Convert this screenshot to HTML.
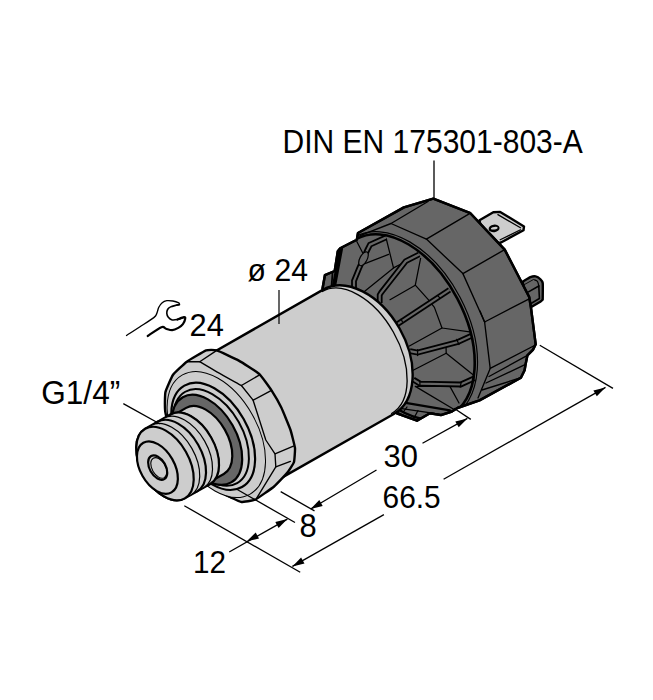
<!DOCTYPE html>
<html><head><meta charset="utf-8"><style>
html,body{margin:0;padding:0;background:#fff;}
svg{display:block;}
text{font-family:"Liberation Sans",sans-serif;fill:#000;}
</style></head><body>
<svg width="653" height="700" viewBox="0 0 653 700">
<path d="M479.5,220.3 L493.3,212.3 L500.2,211.9 L524,226.4 L523.5,230.3 L501,242.5 L485,248Z" fill="#cdcdcd" stroke="#000" stroke-width="2.4" stroke-linejoin="round" stroke-linecap="round"/>
<path d="M497.9,214.6 L520.5,227.8" fill="none" stroke="#000" stroke-width="1.25" stroke-linejoin="round" stroke-linecap="round"/>
<path d="M500.2,239.8 L520.5,229.8" fill="none" stroke="#000" stroke-width="1.25" stroke-linejoin="round" stroke-linecap="round"/>
<ellipse cx="494.1" cy="228.4" rx="5.5" ry="3.8" fill="#000" transform="rotate(-8 494.1 228.4)"/>
<ellipse cx="494.3" cy="228.2" rx="3.4" ry="1.3" fill="#cdcdcd" transform="rotate(-8 494.3 228.2)"/>
<path d="M522.7,281.6 C523.5,281.2 529.1,277.6 530.4,277.1 C531.7,276.6 534.6,276.2 535.6,276.4 C536.6,276.6 539.4,278.3 540.1,279 C540.8,279.7 542.4,280.9 542.7,283 C543,285.1 542.7,297.9 542.7,299.6 L540.7,301.5 L531.7,306.7 L526,300 Z" fill="#666666" stroke="#000" stroke-width="2.4" stroke-linejoin="round" stroke-linecap="round"/>
<path d="M524.5,284.5 L533.5,279.5" fill="none" stroke="#000" stroke-width="0.9" stroke-linejoin="round" stroke-linecap="round"/>
<path d="M528.5,291.9 L538.8,286" fill="none" stroke="#000" stroke-width="1.6" stroke-linejoin="round" stroke-linecap="round"/>
<path d="M538.8,286 L539.4,298.5 L531,303.5" fill="none" stroke="#000" stroke-width="1.6" stroke-linejoin="round" stroke-linecap="round"/>
<path d="M534.5,279.8 C535,280.1 536.8,280.5 537.5,281.5 C538.2,282.5 538.6,285.2 538.8,286" fill="none" stroke="#000" stroke-width="1.25" stroke-linejoin="round" stroke-linecap="round"/>
<path d="M433.3,198.7 L470.4,213.2 L504.7,249.6 L529.2,297 L531,308 L535.7,344.3 L532.9,349.9 L527.4,355.4 L525.5,364.7 L524.6,370.3 L520.9,377.7 L479.5,400.4 L457.4,408 L451.9,411.5 L440.9,415.1 L429.9,413.3 L417,420.7 L396.8,413.3 L380,380 L322.5,288.7 L324.9,275.2 L334.7,271 L337.8,251.3 L340.2,248.3 L356.8,239.7 L358,233 L403.9,207.4Z" fill="#666666" stroke="#000" stroke-width="2.4" stroke-linejoin="round" stroke-linecap="round"/>
<clipPath id="cc"><path d="M433.3,198.7 L470.4,213.2 L504.7,249.6 L529.2,297 L531,308 L535.7,344.3 L532.9,349.9 L527.4,355.4 L525.5,364.7 L524.6,370.3 L520.9,377.7 L479.5,400.4 L457.4,408 L451.9,411.5 L440.9,415.1 L429.9,413.3 L417,420.7 L396.8,413.3 L380,380 L322.5,288.7 L324.9,275.2 L334.7,271 L337.8,251.3 L340.2,248.3 L356.8,239.7 L358,233 L403.9,207.4Z"/></clipPath><g clip-path="url(#cc)">
<path d="M428,201.5 L391,223.5 L360,235.6" fill="none" stroke="#000" stroke-width="1.35" stroke-linejoin="round" stroke-linecap="round"/>
<path d="M391,223.5 L426.4,239.1 L462.9,273.6 L484.6,322 L490.2,368.4 L478,398" fill="none" stroke="#000" stroke-width="1.35" stroke-linejoin="round" stroke-linecap="round"/>
<path d="M470.4,213.2 L426.4,239.1" fill="none" stroke="#000" stroke-width="1.35" stroke-linejoin="round" stroke-linecap="round"/>
<path d="M504.7,249.6 L462.9,273.6" fill="none" stroke="#000" stroke-width="1.35" stroke-linejoin="round" stroke-linecap="round"/>
<path d="M529.2,298.8 L484.6,322" fill="none" stroke="#000" stroke-width="1.35" stroke-linejoin="round" stroke-linecap="round"/>
<path d="M534.5,345.5 L490.2,368.4" fill="none" stroke="#000" stroke-width="1.35" stroke-linejoin="round" stroke-linecap="round"/>
<path d="M480,310.9 L484.6,322" fill="none" stroke="#000" stroke-width="1.35" stroke-linejoin="round" stroke-linecap="round"/>
<path d="M489,376.5 L527.4,355.4" fill="none" stroke="#000" stroke-width="1.35" stroke-linejoin="round" stroke-linecap="round"/>
<path d="M486,383 L525,364.7" fill="none" stroke="#000" stroke-width="1.35" stroke-linejoin="round" stroke-linecap="round"/>
<path d="M482,390 L521,377.7" fill="none" stroke="#000" stroke-width="1.35" stroke-linejoin="round" stroke-linecap="round"/>
<path d="M356.8,241.5 L362.9,253.2" fill="none" stroke="#000" stroke-width="1.25" stroke-linejoin="round" stroke-linecap="round"/>
<path d="M386.2,238.5 L393.5,267.9 L364.1,291.8" fill="none" stroke="#000" stroke-width="1.25" stroke-linejoin="round" stroke-linecap="round"/>
<path d="M360.4,265.4 L388.6,254.4" fill="none" stroke="#000" stroke-width="1.25" stroke-linejoin="round" stroke-linecap="round"/>
<path d="M393.5,267.9 L405,262" fill="none" stroke="#000" stroke-width="1.25" stroke-linejoin="round" stroke-linecap="round"/>
<path d="M420.6,258.4 L415.3,285.2 L390,299.7" fill="none" stroke="#000" stroke-width="1.25" stroke-linejoin="round" stroke-linecap="round"/>
<path d="M415.3,285.2 L428.3,299.7 L434.4,307.4 L442,328 L469.6,331.9" fill="none" stroke="#000" stroke-width="1.25" stroke-linejoin="round" stroke-linecap="round"/>
<path d="M442,328 L409.4,346" fill="none" stroke="#000" stroke-width="1.25" stroke-linejoin="round" stroke-linecap="round"/>
<path d="M446.2,353.3 L412.2,370.8" fill="none" stroke="#000" stroke-width="1.25" stroke-linejoin="round" stroke-linecap="round"/>
<path d="M446.2,353.3 L446,345" fill="none" stroke="#000" stroke-width="1.25" stroke-linejoin="round" stroke-linecap="round"/>
<path d="M446.2,353.3 L474,375.6" fill="none" stroke="#000" stroke-width="1.25" stroke-linejoin="round" stroke-linecap="round"/>
<path d="M449.9,386.4 L416.8,386.4" fill="none" stroke="#000" stroke-width="1.25" stroke-linejoin="round" stroke-linecap="round"/>
<path d="M449.9,386.4 L449,384" fill="none" stroke="#000" stroke-width="1.25" stroke-linejoin="round" stroke-linecap="round"/>
<path d="M449.9,386.4 L459,403" fill="none" stroke="#000" stroke-width="1.25" stroke-linejoin="round" stroke-linecap="round"/>
<path d="M386,237.4 L370,244.7 L367.5,249.6 L359,268.6 L354,280.9 L354,288" fill="none" stroke="#000" stroke-width="5.8" stroke-linejoin="miter" stroke-linecap="butt"/>
<path d="M386,237.4 L370,244.7 L367.5,249.6 L359,268.6 L354,280.9 L354,288" fill="none" stroke="#666" stroke-width="2.2" stroke-linejoin="miter" stroke-linecap="butt"/>
<path d="M419,254.5 L405.7,261.2 L381.2,292.5 L379.7,295 L379.7,303" fill="none" stroke="#000" stroke-width="5.8" stroke-linejoin="miter" stroke-linecap="butt"/>
<path d="M419,254.5 L405.7,261.2 L381.2,292.5 L379.7,295 L379.7,303" fill="none" stroke="#666" stroke-width="2.2" stroke-linejoin="miter" stroke-linecap="butt"/>
<path d="M449.5,289.9 L397.5,324.1" fill="none" stroke="#000" stroke-width="5.8" stroke-linejoin="miter" stroke-linecap="butt"/>
<path d="M449.5,289.9 L397.5,324.1" fill="none" stroke="#666" stroke-width="2.2" stroke-linejoin="miter" stroke-linecap="butt"/>
<path d="M471.1,335.9 L457.9,342 L417.6,352.6 L409.9,351.2" fill="none" stroke="#000" stroke-width="5.8" stroke-linejoin="miter" stroke-linecap="butt"/>
<path d="M471.1,335.9 L457.9,342 L417.6,352.6 L409.9,351.2" fill="none" stroke="#666" stroke-width="2.2" stroke-linejoin="miter" stroke-linecap="butt"/>
<path d="M474.6,378.2 L460.8,384.5 L419.9,383.6 L413.3,379.6" fill="none" stroke="#000" stroke-width="5.8" stroke-linejoin="miter" stroke-linecap="butt"/>
<path d="M474.6,378.2 L460.8,384.5 L419.9,383.6 L413.3,379.6" fill="none" stroke="#666" stroke-width="2.2" stroke-linejoin="miter" stroke-linecap="butt"/>
<path d="M456.7,339.4 L459,344.5" fill="none" stroke="#000" stroke-width="1.25" stroke-linejoin="round" stroke-linecap="round"/>
<path d="M417.6,349.7 L417.6,355.5" fill="none" stroke="#000" stroke-width="1.25" stroke-linejoin="round" stroke-linecap="round"/>
<path d="M461.3,381.9 L460.2,387.1" fill="none" stroke="#000" stroke-width="1.25" stroke-linejoin="round" stroke-linecap="round"/>
<path d="M419.9,381.9 L419.9,385.3" fill="none" stroke="#000" stroke-width="1.25" stroke-linejoin="round" stroke-linecap="round"/>
<path d="M437.9,295.9 L440.3,298.4" fill="none" stroke="#000" stroke-width="1.25" stroke-linejoin="round" stroke-linecap="round"/>
<path d="M401.1,319.2 L402.4,321.7" fill="none" stroke="#000" stroke-width="1.25" stroke-linejoin="round" stroke-linecap="round"/>
<path d="M405.7,402.9 L449.9,410.3" fill="none" stroke="#000" stroke-width="2.2" stroke-linejoin="round" stroke-linecap="round"/>
<path d="M400.2,408.4 L444.3,414.9" fill="none" stroke="#000" stroke-width="1.2" stroke-linejoin="round" stroke-linecap="round"/>
<ellipse cx="363.5" cy="258.8" rx="3.6" ry="7.6" fill="#666" stroke="#000" stroke-width="1.2" transform="rotate(28 363.5 258.8)"/>
<clipPath id="rc"><path d="M364,150 L700,150 L700,500 L330,500 L340,290 L356,240 Z"/></clipPath><g clip-path="url(#rc)">
<ellipse cx="403.5" cy="327" rx="63.9" ry="102.4" transform="rotate(-27.8 403.5 327)" fill="none" stroke="#000" stroke-width="1.2"/>
<ellipse cx="403.5" cy="327" rx="60.9" ry="99.8" transform="rotate(-27.8 403.5 327)" fill="none" stroke="#000" stroke-width="2.6"/>
</g>
<path d="M341,248.5 L334,286" fill="none" stroke="#000" stroke-width="4.2" stroke-linejoin="round" stroke-linecap="round"/>
<path d="M332.5,273.5 L331.5,287" fill="none" stroke="#000" stroke-width="1.8" stroke-linejoin="round" stroke-linecap="round"/>
<path d="M403,412.5 L407,407" fill="none" stroke="#000" stroke-width="1.25" stroke-linejoin="round" stroke-linecap="round"/>
<path d="M414,418 L418,410.5" fill="none" stroke="#000" stroke-width="1.25" stroke-linejoin="round" stroke-linecap="round"/>
<path d="M415.3,386.4 L455,410" fill="none" stroke="#000" stroke-width="1.25" stroke-linejoin="round" stroke-linecap="round"/>
</g>
<path d="M433.3,198.7 L470.4,213.2 L504.7,249.6 L529.2,297 L531,308 L535.7,344.3 L532.9,349.9 L527.4,355.4 L525.5,364.7 L524.6,370.3 L520.9,377.7 L479.5,400.4 L457.4,408 L451.9,411.5 L440.9,415.1 L429.9,413.3 L417,420.7 L396.8,413.3 L380,380 L322.5,288.7 L324.9,275.2 L334.7,271 L337.8,251.3 L340.2,248.3 L356.8,239.7 L358,233 L403.9,207.4Z" fill="none" stroke="#000" stroke-width="2.4" stroke-linejoin="round" stroke-linecap="round"/>
<path d="M200,360 L323.2,289.6 A47.2 71.5 -29.6 0 1 393.8,414 L270,484.4 Z" fill="#cdcdcd" stroke="#000" stroke-width="2.4" stroke-linejoin="round" stroke-linecap="round"/>
<path d="M322.4,291.5 A41.7 70.1 -29.6 0 1 391.6,413.5" fill="none" stroke="#000" stroke-width="1.35" stroke-linejoin="round" stroke-linecap="round"/>
<line x1="279" y1="290" x2="279" y2="324" stroke="#000" stroke-width="1.2"/>
<path d="M206.1,350.4 C207.8,349.7 214.9,349.8 216.8,350.4 C218.7,351 235.9,359 238.4,360.4 C240.9,361.8 257.3,372.1 259.2,373.9 C261.1,375.6 270.2,388.4 271.5,390.4 C272.8,392.4 280.2,405.3 281.3,407.6 C282.4,409.9 289.7,427.6 290.5,430 C291.3,432.4 294.8,446.1 295,448 C295.2,449.9 294.4,460.6 294,462 C293.6,463.4 288.8,471 287.6,472.4 C286.4,473.8 276,484.9 274.1,486.5 C272.2,488.1 257,498.8 255.1,499.7 C253.2,500.6 242.7,502.1 241.3,502 C239.9,501.9 232.5,498.3 230.6,497.4 C228.7,496.5 212.2,487.5 209.2,485.9 C206.2,484.3 182.6,474.3 180,470 C177.4,465.7 166.3,417 165.4,412.5 C164.5,408 165,394.4 165.4,392.2 C165.8,390 171.7,376.8 172.9,375 C174.1,373.2 184.9,363.1 186.8,361.7 C188.7,360.3 204.3,351.1 206.1,350.4Z" fill="#cdcdcd" stroke="#000" stroke-width="2.4" stroke-linejoin="round" stroke-linecap="round"/>
<path d="M216.8,350.4 L199.7,361.7 L186.8,361.7" fill="none" stroke="#000" stroke-width="1.35" stroke-linejoin="round" stroke-linecap="round"/>
<path d="M199.7,361.7 C202.5,363.4 209.9,367.8 216.8,371.8 C223.8,375.8 237.3,383.2 241.4,385.5" fill="none" stroke="#000" stroke-width="1.35" stroke-linejoin="round" stroke-linecap="round"/>
<path d="M241.4,385.5 L253.1,400.2 L265.8,440 L275,453.8 L275.8,466.8 L256.7,498.2" fill="none" stroke="#000" stroke-width="1.35" stroke-linejoin="round" stroke-linecap="round"/>
<path d="M241.4,385.5 L259.2,375.1" fill="none" stroke="#000" stroke-width="1.35" stroke-linejoin="round" stroke-linecap="round"/>
<path d="M253.1,400.2 L271.5,390.4" fill="none" stroke="#000" stroke-width="1.35" stroke-linejoin="round" stroke-linecap="round"/>
<path d="M275,453.8 L293.4,446.1" fill="none" stroke="#000" stroke-width="1.35" stroke-linejoin="round" stroke-linecap="round"/>
<path d="M275.8,466.8 L290.4,461.4" fill="none" stroke="#000" stroke-width="1.35" stroke-linejoin="round" stroke-linecap="round"/>
<ellipse cx="216.3" cy="434.5" rx="41.1" ry="68.5" transform="rotate(-29.6 216.3 434.5)" fill="#cdcdcd" stroke="#000" stroke-width="1.0"/>
<ellipse cx="213.2" cy="436.3" rx="35" ry="58.3" transform="rotate(-29.6 213.2 436.3)" fill="#cdcdcd" stroke="#000" stroke-width="2.2"/>
<ellipse cx="211.2" cy="437.4" rx="31.5" ry="52.5" transform="rotate(-29.6 211.2 437.4)" fill="#cdcdcd" stroke="#000" stroke-width="2.0"/>
<ellipse cx="207" cy="439.8" rx="29.4" ry="49" transform="rotate(-29.6 207 439.8)" fill="#666666" stroke="#000" stroke-width="2.2"/>
<path d="M171.5,416.2 L186.2,407.9 A22.8 38 -29.6 0 1 223.8,474 L209.1,482.3 A22.8 38 -29.6 0 1 171.5,416.2 Z" fill="#cdcdcd" stroke="#000" stroke-width="2.2" stroke-linejoin="round" stroke-linecap="round"/>
<path d="M145.2,428.8 L170.5,414.5 A24 40 -29.6 0 1 210.1,484 L184.8,498.4 A24 40 -29.6 0 1 145.2,428.8 Z" fill="#cdcdcd" stroke="#000" stroke-width="2.2" stroke-linejoin="round" stroke-linecap="round"/>
<ellipse cx="190.3" cy="449.3" rx="24" ry="40" transform="rotate(-29.6 190.3 449.3)" fill="#cdcdcd" stroke="#000" stroke-width="2.2"/>
<ellipse cx="183.8" cy="453" rx="24" ry="40" transform="rotate(-29.6 183.8 453)" fill="#cdcdcd" stroke="#000" stroke-width="1.2"/>
<ellipse cx="177.3" cy="456.6" rx="24" ry="40" transform="rotate(-29.6 177.3 456.6)" fill="#cdcdcd" stroke="#000" stroke-width="2.2"/>
<ellipse cx="171" cy="460.2" rx="24" ry="40" transform="rotate(-29.6 171 460.2)" fill="#cdcdcd" stroke="#000" stroke-width="1.2"/>
<ellipse cx="165" cy="463.6" rx="24" ry="40" transform="rotate(-29.6 165 463.6)" fill="#cdcdcd" stroke="#000" stroke-width="2.2"/>
<ellipse cx="157.4" cy="467.6" rx="17.1" ry="28.5" transform="rotate(-29.6 157.4 467.6)" fill="#cdcdcd" stroke="#000" stroke-width="2.2"/>
<ellipse cx="157.7" cy="467.6" rx="8" ry="13.3" transform="rotate(-29.6 157.7 467.6)" fill="#cdcdcd" stroke="#000" stroke-width="2.2"/>
<ellipse cx="158.8" cy="467.9" rx="6.7" ry="11.2" transform="rotate(-29.6 158.8 467.9)" fill="none" stroke="#000" stroke-width="1.1"/>
<line x1="539.8" y1="345.3" x2="613" y2="388.4" stroke="#000" stroke-width="1.3"/>
<line x1="454" y1="408.3" x2="470.8" y2="419.4" stroke="#000" stroke-width="1.3"/>
<line x1="280.7" y1="491.6" x2="314.5" y2="510.9" stroke="#000" stroke-width="1.3"/>
<line x1="237.2" y1="489.5" x2="295" y2="522.5" stroke="#000" stroke-width="1.3"/>
<line x1="184.3" y1="505.7" x2="300.2" y2="572.3" stroke="#000" stroke-width="1.3"/>
<line x1="292.4" y1="566.4" x2="383.9" y2="514.6" stroke="#000" stroke-width="1.3"/>
<line x1="443.6" y1="479.3" x2="605.5" y2="387.4" stroke="#000" stroke-width="1.3"/>
<path d="M605.5,387.4 L596.8,396.3 L593.4,390.4Z" fill="#000"/>
<path d="M292.4,566.4 L301.1,557.5 L304.5,563.4Z" fill="#000"/>
<line x1="310.6" y1="509" x2="376.5" y2="470" stroke="#000" stroke-width="1.3"/>
<line x1="422.5" y1="443.2" x2="467.4" y2="418.4" stroke="#000" stroke-width="1.3"/>
<path d="M467.4,418.4 L458.7,427.3 L455.3,421.5Z" fill="#000"/>
<path d="M310.6,509 L319.3,500.1 L322.7,505.9Z" fill="#000"/>
<line x1="229.2" y1="552" x2="287.4" y2="519.1" stroke="#000" stroke-width="1.3"/>
<path d="M287.4,519.1 L278.6,528 L275.3,522Z" fill="#000"/>
<path d="M246.8,541.3 L255.7,532.6 L259,538.5Z" fill="#000"/>
<line x1="123.3" y1="403.6" x2="160" y2="424" stroke="#000" stroke-width="1.3"/>
<path d="M126.5,335.5 C128.8,334.1 135.4,329.8 140,326.8 C144.6,323.8 151,319.8 153.8,317.6 C156.6,315.4 156,315.1 156.8,313.4 C157.6,311.7 157.9,309.1 158.8,307.3 C159.7,305.5 160.9,303.8 162.2,302.7 C163.5,301.6 165,301 166.8,300.7 C168.6,300.4 171,300.7 172.9,301 C174.8,301.3 177.2,302.1 178.3,302.7 C179.4,303.3 179.8,304.2 179.4,304.6 C179,305 176.6,305.2 176,305.3" fill="none" stroke="#000" stroke-width="1.35" stroke-linejoin="round" stroke-linecap="round"/>
<path d="M179.4,304.6 C178.8,304.7 177.5,304.9 176,305.3 C174.5,305.7 172,306.2 170.6,306.9 C169.2,307.6 168.2,308.4 167.6,309.5 C167,310.6 166.7,312.1 166.8,313.4 C166.9,314.7 167.4,316.1 168.3,317.2 C169.2,318.3 170.7,319.5 172.2,319.9 C173.7,320.3 175.5,319.9 177.5,319.5 C179.5,319.1 182.9,317.6 184,317.2" fill="none" stroke="#000" stroke-width="1.6" stroke-linejoin="round" stroke-linecap="round"/>
<path d="M177.5,319.5 C178.6,319.1 182.7,317.3 184,317.2 C185.3,317.1 185.4,317.5 185.2,318.7 C185,319.9 184.1,322.6 182.9,324.1 C181.8,325.6 180.1,326.9 178.3,327.9 C176.5,328.9 174.2,330.1 172.2,330.2 C170.1,330.3 167.8,329.2 166,328.7 C164.2,328.2 164.5,326 161.4,327.2 C158.3,328.4 150,334.5 147.7,336" fill="none" stroke="#000" stroke-width="2.2" stroke-linejoin="round" stroke-linecap="round"/>
<line x1="434" y1="160.5" x2="434" y2="198.6" stroke="#000" stroke-width="1.3"/>
<text x="282.6" y="153.3" font-size="32.48" textLength="300.2" lengthAdjust="spacingAndGlyphs">DIN EN 175301-803-A</text>
<text x="247.6" y="280.6" font-size="31.96" textLength="60.4" lengthAdjust="spacingAndGlyphs">ø 24</text>
<text x="189.5" y="336.4" font-size="31.57" textLength="34.3" lengthAdjust="spacingAndGlyphs">24</text>
<text x="41.3" y="404.4" font-size="33.66" textLength="78.9" lengthAdjust="spacingAndGlyphs">G1/4”</text>
<text x="383.5" y="467.1" font-size="32.05" textLength="34.4" lengthAdjust="spacingAndGlyphs">30</text>
<text x="382.6" y="507.7" font-size="32.05" textLength="58.1" lengthAdjust="spacingAndGlyphs">66.5</text>
<text x="299.6" y="537" font-size="32.32" textLength="17.2" lengthAdjust="spacingAndGlyphs">8</text>
<text x="192.9" y="573.3" font-size="31.57" textLength="33" lengthAdjust="spacingAndGlyphs">12</text>
</svg></body></html>
